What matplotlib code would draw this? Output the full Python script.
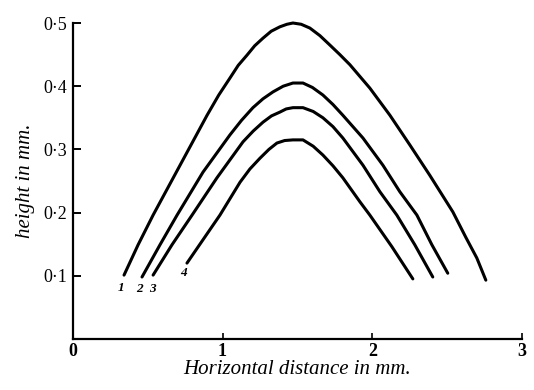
import matplotlib
matplotlib.use("Agg")
from matplotlib import pyplot as plt

# curve points (x in mm, height in mm)
x1 = [0.343, 0.437, 0.537, 0.717, 0.897, 0.975, 1.050, 1.105, 1.163, 1.215, 1.270, 1.325,
      1.383, 1.430, 1.470, 1.525, 1.583, 1.650, 1.717, 1.783, 1.850, 1.983, 2.117, 2.250,
      2.383, 2.460, 2.537, 2.623, 2.697, 2.757]
h1 = [0.101, 0.149, 0.196, 0.275, 0.354, 0.386, 0.413, 0.433, 0.449, 0.464, 0.476, 0.487,
      0.494, 0.498, 0.500, 0.498, 0.492, 0.480, 0.465, 0.450, 0.434, 0.397, 0.354, 0.307,
      0.259, 0.230, 0.201, 0.161, 0.128, 0.093]

x2 = [0.463, 0.583, 0.697, 0.870, 1.050, 1.127, 1.203, 1.270, 1.337, 1.405, 1.470, 1.537,
      1.600, 1.670, 1.737, 1.803, 1.937, 2.070, 2.183, 2.297, 2.397, 2.503]
h2 = [0.098, 0.149, 0.196, 0.264, 0.323, 0.346, 0.366, 0.380, 0.391, 0.400, 0.405, 0.405,
      0.398, 0.386, 0.371, 0.354, 0.318, 0.275, 0.233, 0.196, 0.149, 0.104]

x3 = [0.537, 0.663, 0.797, 0.963, 1.137, 1.205, 1.270, 1.327, 1.383, 1.425, 1.470, 1.537,
      1.605, 1.670, 1.737, 1.803, 1.937, 2.050, 2.163, 2.283, 2.403]
h3 = [0.101, 0.149, 0.196, 0.255, 0.312, 0.329, 0.343, 0.353, 0.359, 0.364, 0.366, 0.366,
      0.360, 0.350, 0.336, 0.318, 0.275, 0.233, 0.196, 0.149, 0.098]

x4 = [0.763, 0.870, 0.983, 1.117, 1.183, 1.250, 1.310, 1.363, 1.415, 1.470, 1.537, 1.605,
      1.670, 1.737, 1.803, 1.917, 1.983, 2.130, 2.270]
h4 = [0.120, 0.157, 0.196, 0.248, 0.269, 0.286, 0.300, 0.310, 0.314, 0.315, 0.315, 0.305,
      0.291, 0.274, 0.255, 0.217, 0.196, 0.146, 0.095]

curve_labels = ["1", "2", "3", "4"]
label_x = [0.323, 0.443, 0.530, 0.737]
label_y = [0.081, 0.079, 0.079, 0.104]

xticks = [0, 1, 2, 3]
xtick_labels = ["0", "1", "2", "3"]
yticks = [0.1, 0.2, 0.3, 0.4, 0.5]
ytick_labels = ["0·1", "0·2", "0·3", "0·4", "0·5"]

plt.rcParams['font.family'] = ['Liberation Serif', 'DejaVu Serif']

fig = plt.figure(figsize=(5.34, 3.9), dpi=100)
ax = fig.add_axes([0.136, 0.131, 0.842, 0.810])

for xs, hs in [(x1, h1), (x2, h2), (x3, h3), (x4, h4)]:
    ax.plot(xs, hs, color="black", lw=2.2, solid_capstyle="round",
            solid_joinstyle="round", clip_on=False)

for t, lx, ly in zip(curve_labels, label_x, label_y):
    ax.text(lx, ly, t, fontsize=9.5, fontstyle="italic", fontweight="bold",
            ha="center", va="center")

ax.set_xlim(0, 3)
ax.set_ylim(0, 0.5)
ax.spines["top"].set_visible(False)
ax.spines["right"].set_visible(False)
ax.spines["left"].set_linewidth(1.6)
ax.spines["bottom"].set_linewidth(1.6)

ax.set_xticks(xticks)
ax.set_xticklabels(xtick_labels, fontsize=13, fontweight="bold")
ax.set_yticks(yticks)
ax.set_yticklabels(ytick_labels, fontsize=13)
ax.tick_params(axis="y", direction="in", length=6, width=1.4, pad=4)
ax.tick_params(axis="x", direction="in", length=4, width=1.2, pad=3)

ax.set_xlabel("Horizontal distance in mm.", fontsize=15, fontstyle="italic", labelpad=0)
ax.set_ylabel("height in mm.", fontsize=15, fontstyle="italic", labelpad=6)

fig.savefig("out.png", dpi=100)
